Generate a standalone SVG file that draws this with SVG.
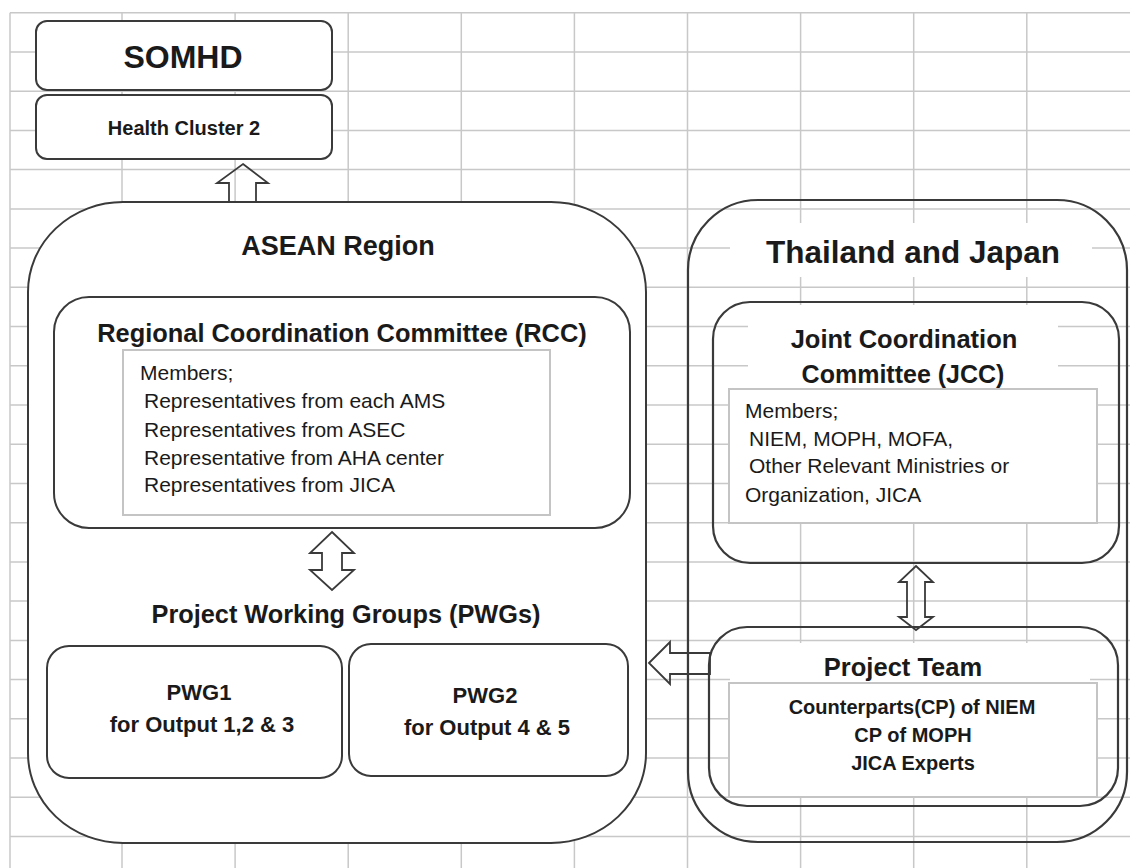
<svg xmlns="http://www.w3.org/2000/svg" width="1130" height="868" viewBox="0 0 1130 868">
<style>
.grid line{stroke:#c8c8c8;stroke-width:1.5}
.box{fill:#fff;stroke:#3a3a3a;stroke-width:2}
.open{fill:none;stroke:#3a3a3a;stroke-width:2.2}
.mem{fill:#fff;stroke:#c4c4c4;stroke-width:2}
.bg{fill:#fff;stroke:none}
.arr{fill:none;stroke:#3a3a3a;stroke-width:1.8;stroke-linejoin:miter}
.arrw{fill:#fff;stroke:#3a3a3a;stroke-width:1.8;stroke-linejoin:miter}
text{font-family:"Liberation Sans",Arial,sans-serif;fill:#1a1a1a}
.b{font-weight:bold}
.c{text-anchor:middle}
</style>
<rect width="1130" height="868" fill="#fff"/>
<g id="grid" class="grid">
<line x1="10" y1="12.7" x2="1130" y2="12.7"/>
<line x1="10" y1="51.9" x2="1130" y2="51.9"/>
<line x1="10" y1="91.2" x2="1130" y2="91.2"/>
<line x1="10" y1="130.4" x2="1130" y2="130.4"/>
<line x1="10" y1="169.6" x2="1130" y2="169.6"/>
<line x1="10" y1="208.9" x2="1130" y2="208.9"/>
<line x1="10" y1="248.1" x2="1130" y2="248.1"/>
<line x1="10" y1="287.3" x2="1130" y2="287.3"/>
<line x1="10" y1="326.5" x2="1130" y2="326.5"/>
<line x1="10" y1="365.8" x2="1130" y2="365.8"/>
<line x1="10" y1="405" x2="1130" y2="405"/>
<line x1="10" y1="444.2" x2="1130" y2="444.2"/>
<line x1="10" y1="483.5" x2="1130" y2="483.5"/>
<line x1="10" y1="522.7" x2="1130" y2="522.7"/>
<line x1="10" y1="561.9" x2="1130" y2="561.9"/>
<line x1="10" y1="601.1" x2="1130" y2="601.1"/>
<line x1="10" y1="640.4" x2="1130" y2="640.4"/>
<line x1="10" y1="679.6" x2="1130" y2="679.6"/>
<line x1="10" y1="718.8" x2="1130" y2="718.8"/>
<line x1="10" y1="758.1" x2="1130" y2="758.1"/>
<line x1="10" y1="797.3" x2="1130" y2="797.3"/>
<line x1="10" y1="836.5" x2="1130" y2="836.5"/>
<line x1="10" y1="12.7" x2="10" y2="868"/>
<line x1="122" y1="12.7" x2="122" y2="868"/>
<line x1="235.1" y1="12.7" x2="235.1" y2="868"/>
<line x1="348.2" y1="12.7" x2="348.2" y2="868"/>
<line x1="461.3" y1="12.7" x2="461.3" y2="868"/>
<line x1="574.4" y1="12.7" x2="574.4" y2="868"/>
<line x1="687.5" y1="12.7" x2="687.5" y2="868"/>
<line x1="800.6" y1="12.7" x2="800.6" y2="868"/>
<line x1="913.7" y1="12.7" x2="913.7" y2="868"/>
<line x1="1026.8" y1="12.7" x2="1026.8" y2="868"/>
</g>

<g id="somhd">
<rect class="box" x="36" y="21" width="296" height="69" rx="11"/>
<text class="b c" x="183" y="68" font-size="32">SOMHD</text>
</g>
<g id="health-cluster-2">
<rect class="box" x="36" y="95" width="296" height="64" rx="11"/>
<text class="b c" x="184" y="135" font-size="20">Health Cluster 2</text>
</g>

<g id="asean-region">
<rect class="box" x="28" y="202" width="618" height="641" rx="95" ry="90"/>
<text class="b c" x="338" y="255" font-size="27">ASEAN Region</text>
</g>

<g id="rcc">
<rect class="box" x="54" y="297" width="576" height="231" rx="35"/>
<text class="b c" x="342" y="342" font-size="25.4">Regional Coordination Committee (RCC)</text>
<rect class="mem" x="123" y="350" width="427" height="165"/>
<text x="140" y="380" font-size="21">Members;</text>
<text x="144" y="408" font-size="21">Representatives from each AMS</text>
<text x="144" y="437" font-size="21">Representatives from ASEC</text>
<text x="144" y="465" font-size="21">Representative from AHA center</text>
<text x="144" y="492" font-size="21">Representatives from JICA</text>
</g>

<g id="pwgs">
<text class="b c" x="346" y="623" font-size="25.3">Project Working Groups (PWGs)</text>
</g>
<g id="pwg1">
<rect class="box" x="47" y="646" width="295" height="132" rx="22"/>
<text class="b c" x="199" y="700" font-size="22">PWG1</text>
<text class="b c" x="202" y="732" font-size="22">for Output 1,2 &amp; 3</text>
</g>
<g id="pwg2">
<rect class="box" x="349" y="644" width="279" height="132" rx="22"/>
<text class="b c" x="485" y="703" font-size="22">PWG2</text>
<text class="b c" x="487" y="735" font-size="22">for Output 4 &amp; 5</text>
</g>

<g id="thailand-japan">
<rect class="open" x="688" y="200" width="439" height="642" rx="70"/>
<rect class="bg" x="730" y="223" width="362" height="54"/>
<text class="b c" x="913" y="263" font-size="31.5">Thailand and Japan</text>
</g>

<g id="jcc">
<rect class="open" x="713" y="302" width="406" height="261" rx="37"/>
<rect class="bg" x="748" y="305" width="310" height="84"/>
<text class="b c" x="904" y="348" font-size="25.5">Joint Coordination</text>
<text class="b c" x="903" y="383" font-size="25">Committee (JCC)</text>
<rect class="mem" x="729" y="389" width="368" height="134"/>
<text x="745" y="418" font-size="21">Members;</text>
<text x="749" y="446" font-size="21">NIEM, MOPH, MOFA,</text>
<text x="749" y="473" font-size="21">Other Relevant Ministries or</text>
<text x="745" y="502" font-size="21">Organization, JICA</text>
</g>

<g id="project-team">
<rect class="open" x="709" y="627" width="409" height="179" rx="38"/>
<rect class="bg" x="730" y="643" width="360" height="40"/>
<text class="b c" x="903" y="676" font-size="25.5">Project Team</text>
<rect class="mem" x="729" y="683" width="368" height="114"/>
<text class="b c" x="912" y="714" font-size="20">Counterparts(CP) of NIEM</text>
<text class="b c" x="913" y="742" font-size="20">CP of MOPH</text>
<text class="b c" x="913" y="770" font-size="20">JICA Experts</text>
</g>

<g id="connectors">
<polygon class="arr" points="243,164 268,183 256,183 256,202 229,202 229,183 217,183"/>
<polygon class="arrw" points="332,532 354,553 342,553 342,570 354,570 332,590 310,570 322,570 322,553 310,553"/>
<polygon class="arr" points="916,566 933,582 925,582 925,617 933,617 916,630 899,617 907,617 907,582 899,582"/>
<polygon class="arr" points="649,663 670,642 670,653 710,653 710,674 670,674 670,684"/>
</g>
</svg>
